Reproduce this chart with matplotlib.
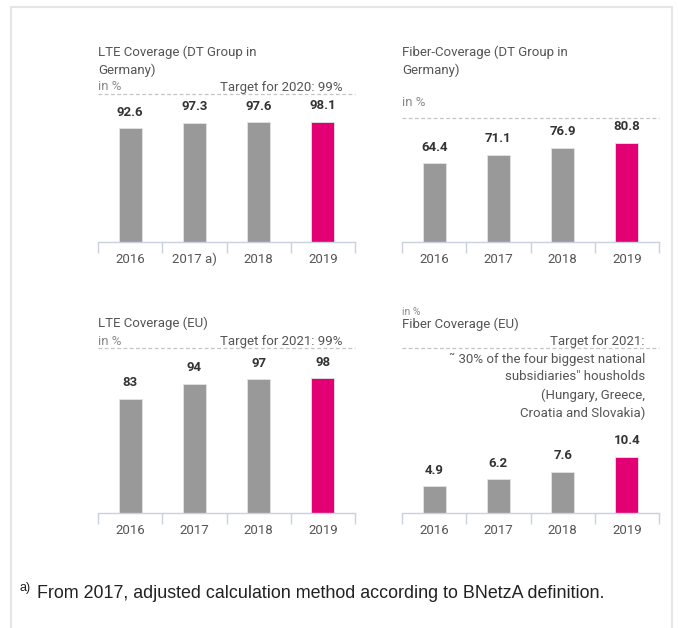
import matplotlib.pyplot as plt
from matplotlib.patches import Rectangle

# Daten
years = ['2016', '2017', '2018', '2019']
years_lte_de = ['2016', '2017 a)', '2018', '2019']
lte_de = [92.6, 97.3, 97.6, 98.1]
fiber_de = [64.4, 71.1, 76.9, 80.8]
lte_eu = [83, 94, 97, 98]
fiber_eu = [4.9, 6.2, 7.6, 10.4]
value_labels_lte_eu = ['83', '94', '97', '98']

W, H = 678, 628
GREY = '#999999'
MAGENTA = '#e20074'
TXT = '#555555'
AXC = '#c9d1e0'

plt.rcParams['font.family'] = ['Roboto', 'DejaVu Sans']

fig = plt.figure(figsize=(W / 100, H / 100), dpi=100)
fig.patch.set_facecolor('white')


def fx(x):
    return x / W


def fy(y):
    return 1 - y / H


# Rahmen
fig.add_artist(Rectangle((fx(11), fy(660)), fx(672) - fx(11), fy(7) - fy(660),
                         transform=fig.transFigure, fill=False,
                         edgecolor='#e6e6e6', linewidth=1.5))


def panel(left, right, base, top, ymax, values, xlabels, labels=None):
    ax = fig.add_axes([fx(left), fy(base), fx(right) - fx(left), fy(top) - fy(base)])
    colors = [GREY] * (len(values) - 1) + [MAGENTA]
    x = range(len(values))
    ax.bar(x, values, width=0.36, color=colors, edgecolor='#e4e4e4', linewidth=0.6)
    ax.set_xlim(-0.5, len(values) - 0.5)
    ax.set_ylim(0, ymax)
    for s in ['left', 'right', 'top']:
        ax.spines[s].set_visible(False)
    ax.spines['bottom'].set_color(AXC)
    ax.spines['bottom'].set_linewidth(1)
    ax.axhline(ymax, color='#c4c4c4', linestyle=(0, (3, 2)), linewidth=0.9, clip_on=False)
    ax.set_yticks([])
    ax.set_xticks(list(x))
    ax.set_xticklabels(xlabels, fontsize=9.5, color=TXT, va='baseline')
    ax.tick_params(axis='x', which='major', length=0, pad=15)
    ax.set_xticks([i - 0.5 for i in range(len(values) + 1)], minor=True)
    ax.tick_params(axis='x', which='minor', length=8, color=AXC, width=1)
    if labels is None:
        labels = [f'{v:.1f}' for v in values]
    for i, v in enumerate(values):
        ax.annotate(labels[i], (i, v), xytext=(0, 11.5), textcoords='offset points',
                    ha='center', va='center', fontsize=9.5, fontweight='bold',
                    color='#333333')
    return ax


panel(98, 355, 242, 93.5, 121.1, lte_de, years_lte_de)
panel(402, 659, 241.7, 118, 101.2, fiber_de, years)
panel(98, 355, 513.3, 348.3, 119.6, lte_eu, years, value_labels_lte_eu)
panel(402, 659, 512.7, 348.3, 30.6, fiber_eu, years)

# Titel und Beschriftungen
fig.text(fx(98), fy(52), 'LTE Coverage (DT Group in', fontsize=9.5, color=TXT, va='center')
fig.text(fx(98), fy(70), 'Germany)', fontsize=9.5, color=TXT, va='center')
fig.text(fx(98), fy(87), 'in %', fontsize=9.5, color='#8a8a8a', va='center')
fig.text(fx(343), fy(87), 'Target for 2020: 99%', fontsize=9.5, color=TXT, va='center', ha='right')

fig.text(fx(402), fy(52), 'Fiber-Coverage (DT Group in', fontsize=9.5, color=TXT, va='center')
fig.text(fx(402), fy(70), 'Germany)', fontsize=9.5, color=TXT, va='center')
fig.text(fx(402), fy(102), 'in %', fontsize=9.5, color='#8a8a8a', va='center')

fig.text(fx(98), fy(323), 'LTE Coverage (EU)', fontsize=9.5, color=TXT, va='center')
fig.text(fx(98), fy(341), 'in %', fontsize=9.5, color='#8a8a8a', va='center')
fig.text(fx(343), fy(341), 'Target for 2021: 99%', fontsize=9.5, color=TXT, va='center', ha='right')

fig.text(fx(402), fy(312), 'in %', fontsize=7.5, color='#8a8a8a', va='center')
fig.text(fx(402), fy(324), 'Fiber Coverage (EU)', fontsize=9.5, color=TXT, va='center')
target_lines = ['Target for 2021:', '˜ 30% of the four biggest national',
                'subsidiaries" housholds', '(Hungary, Greece,', 'Croatia and Slovakia)']
for i, line in enumerate(target_lines):
    fig.text(fx(645), fy(341 + 18 * i), line, fontsize=9.5, color=TXT, va='center', ha='right')

# Fussnote
fig.text(fx(20), fy(588), 'a)', fontsize=9, color='#222222', va='center',
         family=['Liberation Sans', 'DejaVu Sans'])
fig.text(fx(37), fy(593), 'From 2017, adjusted calculation method according to BNetzA definition.',
         fontsize=12.9, color='#222222', va='center',
         family=['Liberation Sans', 'DejaVu Sans'])

plt.savefig('out.png', dpi=100)
